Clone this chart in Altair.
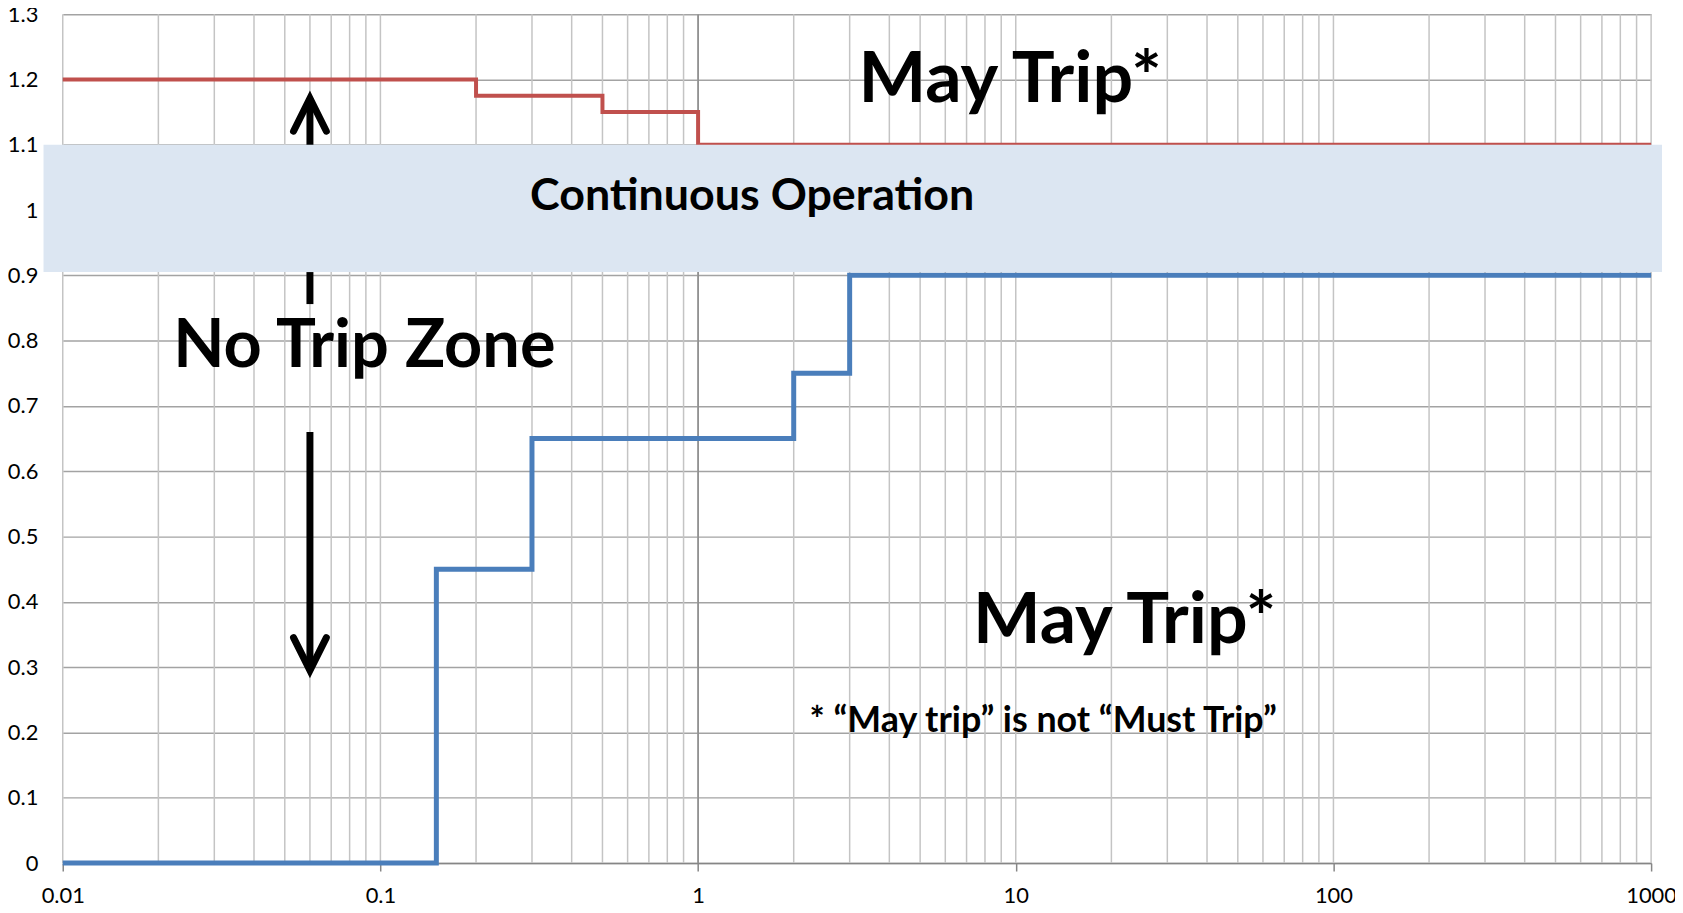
import altair as alt
import pandas as pd

# ---- data ----
x_ticks = [0.01, 0.1, 1, 10, 100, 1000]
y_ticks = [0, 0.1, 0.2, 0.3, 0.4, 0.5, 0.6, 0.7, 0.8, 0.9, 1, 1.1, 1.2, 1.3]

over_x = [0.01, 0.2, 0.5, 1, 1000]
over_y = [1.2, 1.175, 1.15, 1.1, 1.1]

under_x = [0.01, 0.15, 0.3, 2, 3, 1000]
under_y = [0, 0.45, 0.65, 0.75, 0.9, 0.9]

band_x = [0.0087, 1082]
band_y = [0.905, 1.1]

arrow_x = 0.06
shaft_from = [1.171, 0.905, 0.66]
shaft_to = [1.0, 0.856, 0.295]
up_tip = 1.171
down_tip = 0.295

labels = ["May Trip*", "May Trip*", "No Trip Zone", "Continuous Operation",
          "* \u201cMay trip\u201d is not \u201cMust Trip\u201d"]
label_x = [9.6, 22.0, 0.089, 1.48, 12.2]
label_y = [1.165, 0.337, 0.759, 1.0, 0.2]

minor_grid = [m * 10.0 ** e for e in range(-2, 3) for m in range(1, 10)] + [1000]

W, H = 1596, 853
xs = alt.Scale(type="log", domain=[0.01, 1000], nice=False)
ys = alt.Scale(domain=[0, 1.3], nice=False, zero=False)

FONT = "Lato"

X_AX = alt.Axis(
    values=x_ticks, format="~g", grid=False, title=None,
    domainColor="#868686", domainWidth=1.5, tickColor="#868686",
    tickWidth=1.5, tickSize=8, labelPadding=15, labelFont=FONT,
    labelFontSize=22, labelColor="black", labelFlush=False,
    labelOverlap=False)
Y_AX = alt.Axis(
    values=y_ticks, format="~g", grid=True, gridColor="#A3A3A3",
    gridWidth=1.5, domain=False, ticks=False, labelPadding=25,
    labelFont=FONT, labelFontSize=22, labelColor="black", title=None,
    labelOverlap=False, labelFlush=False)


def X(field="x"):
    return alt.X(f"{field}:Q", scale=xs, axis=X_AX)


def Y(field="y"):
    return alt.Y(f"{field}:Q", scale=ys, axis=Y_AX)


base_grid = alt.Chart(pd.DataFrame({"y": y_ticks})).mark_rule(
    opacity=0
).encode(y=Y())

vgrid = alt.Chart(pd.DataFrame({"x": minor_grid})).mark_rule(
    color="#C4C4C4", strokeWidth=1.5
).encode(x=X())

one_line = alt.Chart(pd.DataFrame({"x": [1]})).mark_rule(
    color="#868686", strokeWidth=1.5
).encode(x=X())

over = alt.Chart(pd.DataFrame({"x": over_x, "y": over_y})).mark_line(
    color="#C0504D", strokeWidth=4, interpolate="step-after"
).encode(x=X(), y=Y())

under = alt.Chart(pd.DataFrame({"x": under_x, "y": under_y})).mark_line(
    color="#4A7EBB", strokeWidth=5, interpolate="step-after"
).encode(x=X(), y=Y())

shafts = alt.Chart(pd.DataFrame({"x": [arrow_x] * 3, "y": shaft_from, "y2": shaft_to})).mark_rule(
    color="black", strokeWidth=7
).encode(x=X(), y=Y(), y2="y2:Q")

up_head = alt.Chart(pd.DataFrame({"x": [arrow_x], "y": [up_tip]})).mark_point(
    shape="M-0.5,1L0,0L0.5,1", size=4356, filled=False, stroke="black",
    strokeWidth=7, strokeCap="round", opacity=1
).encode(x=X(), y=Y())

down_head = alt.Chart(pd.DataFrame({"x": [arrow_x], "y": [down_tip]})).mark_point(
    shape="M-0.5,-1L0,0L0.5,-1", size=4356, filled=False, stroke="black",
    strokeWidth=7, strokeCap="round", opacity=1
).encode(x=X(), y=Y())

band = alt.Chart(pd.DataFrame({"x": [band_x[0]], "x2": [band_x[1]],
                               "y": [band_y[0]], "y2": [band_y[1]]})).mark_rect(
    color="#DCE6F2", clip=False
).encode(x=X(), x2="x2:Q", y=Y(), y2="y2:Q")

ann = pd.DataFrame({"t": labels, "x": label_x, "y": label_y})
sizes = [72, 72, 67, 45, 36]


def text_layer(i):
    return alt.Chart(ann.iloc[[i]]).mark_text(
        font=FONT, fontWeight="bold", fontSize=sizes[i], color="black",
        align="center", baseline="alphabetic"
    ).encode(x=X(), y=Y(), text="t:N")


texts = [text_layer(i) for i in range(len(labels))]

chart = alt.layer(
    base_grid, vgrid, one_line, over, under, shafts, up_head, down_head, band, *texts
).properties(
    width=W, height=H, autosize="none",
    padding={"left": 55, "top": 4, "right": 24, "bottom": 46},
    background="white",
).configure_view(stroke=None)

chart.save("out.html", embed_options={"renderer": "svg", "actions": False})
